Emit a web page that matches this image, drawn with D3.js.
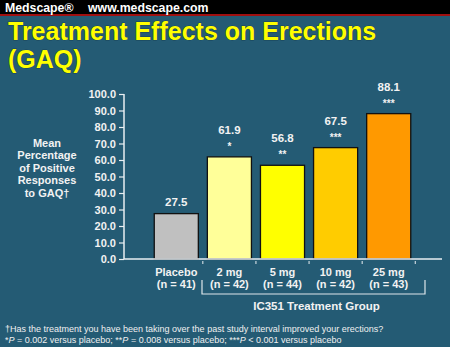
<!DOCTYPE html>
<html>
<head>
<meta charset="utf-8">
<script src="https://cdn.jsdelivr.net/npm/d3@7"></script>
<style>
  body { margin: 0; background: #245b74; }
  svg text { font-family: Arial, "Liberation Sans", sans-serif; }
</style>
</head>
<body>
<div class="canvas"></div>
<script>
// chart data
const categories = ['Placebo', '2 mg', '5 mg', '10 mg', '25 mg'];
const groupSizes = ['(n = 41)', '(n = 42)', '(n = 44)', '(n = 42)', '(n = 43)'];
const values = [27.5, 61.9, 56.8, 67.5, 88.1];
const stars = ['', '*', '**', '***', '***'];
const barColors = ['#c0c0c0', '#ffff99', '#ffff00', '#ffcc00', '#ff9900'];
const yTicks = [0, 10, 20, 30, 40, 50, 60, 70, 80, 90, 100];
const yLabelLines = ['Mean', 'Percentage', 'of Positive', 'Responses', 'to GAQ\u2020'];

const width = 450, height = 347;

const svg = d3.select('.canvas')
  .append('svg')
    .attr('width', width)
    .attr('height', height);

svg.append('rect').attr('width', width).attr('height', height).attr('fill', '#245b74');

// header bar
svg.append('rect').attr('width', width).attr('height', 14).attr('fill', '#000');
svg.append('rect').attr('y', 14).attr('width', width).attr('height', 2).attr('fill', '#a01010');
svg.append('text').attr('x', 5).attr('y', 11.5).text('Medscape\u00ae')
  .attr('fill', '#fff').attr('font-size', 12.3).attr('font-weight', 'bold');
svg.append('text').attr('x', 88).attr('y', 11.5).text('www.medscape.com')
  .attr('fill', '#fff').attr('font-size', 12.3).attr('font-weight', 'bold');

// title
const title = svg.append('g');
['Treatment Effects on Erections', '(GAQ)'].forEach((t, i) => {
  title.append('text')
    .attr('x', 8).attr('y', 40 + i * 28)
    .text(t)
    .attr('fill', '#ffff00')
    .attr('stroke', '#0a2a38').attr('stroke-width', 0.6)
    .attr('paint-order', 'stroke')
    .attr('font-size', 25).attr('font-weight', 'bold');
});

// graph area
const margin = {top: 94, left: 124};
const graphHeight = 165;
const graph = svg.append('g')
  .attr('transform', `translate(${margin.left}, ${margin.top})`);

const y = d3.scaleLinear()
  .domain([0, 100])
  .range([graphHeight, 0]);

const x = d3.scaleBand()
  .domain(categories)
  .range([26, 291])
  .paddingInner(0.17)
  .paddingOuter(0.08);

// y axis
const yAxis = d3.axisLeft(y)
  .tickValues(yTicks)
  .tickSize(5)
  .tickFormat(d3.format('.1f'));
const yAxisGroup = graph.append('g').call(yAxis);
yAxisGroup.select('.domain').attr('stroke', '#e8eef2').attr('stroke-width', 1.5)
  .attr('d', `M0,0V${graphHeight}`);
yAxisGroup.selectAll('.tick line').attr('stroke', '#e8eef2').attr('stroke-width', 1.2);
yAxisGroup.selectAll('text')
  .attr('fill', '#f2f2f2').attr('font-size', 11).attr('font-weight', 'bold')
  .attr('x', -8).attr('dy', '0.36em')
  .attr('font-family', 'Arial, "Liberation Sans", sans-serif');

// y label
const yLabel = svg.append('text')
  .attr('text-anchor', 'middle')
  .attr('fill', '#f2f2f2').attr('font-size', 11).attr('font-weight', 'bold');
yLabelLines.forEach((l, i) => {
  yLabel.append('tspan').attr('x', 47).attr('y', 147 + i * 12.4).text(l);
});

// bars
graph.selectAll('rect.bar')
  .data(values)
  .enter()
  .append('rect')
    .attr('class', 'bar')
    .attr('x', (d, i) => x(categories[i]))
    .attr('y', d => y(d))
    .attr('width', x.bandwidth())
    .attr('height', d => graphHeight - y(d))
    .attr('fill', (d, i) => barColors[i])
    .attr('stroke', '#111')
    .attr('stroke-width', 1.3);

// x axis line and ticks (ticks between groups)
graph.append('line')
  .attr('x1', 0).attr('x2', 318)
  .attr('y1', graphHeight).attr('y2', graphHeight)
  .attr('stroke', '#e8eef2').attr('stroke-width', 1.5);
const step = x.step();
graph.selectAll('line.xtick')
  .data(categories)
  .enter()
  .append('line')
    .attr('class', 'xtick')
    .attr('x1', d => x(d) + x.bandwidth() + (step - x.bandwidth()) / 2)
    .attr('x2', d => x(d) + x.bandwidth() + (step - x.bandwidth()) / 2)
    .attr('y1', graphHeight + 2).attr('y2', graphHeight + 5)
    .attr('stroke', '#e8eef2').attr('stroke-width', 1);

// value labels
graph.selectAll('text.val')
  .data(values)
  .enter()
  .append('text')
    .attr('class', 'val')
    .attr('x', (d, i) => x(categories[i]) + x.bandwidth() / 2)
    .attr('y', (d, i) => y(d) - (stars[i] ? 23 : 8))
    .attr('text-anchor', 'middle')
    .attr('fill', '#f2f2f2').attr('font-size', 11.5).attr('font-weight', 'bold')
    .text(d => d.toFixed(1));

graph.selectAll('text.star')
  .data(stars)
  .enter()
  .append('text')
    .attr('class', 'star')
    .attr('x', (d, i) => x(categories[i]) + x.bandwidth() / 2)
    .attr('y', (d, i) => y(values[i]) - 7)
    .attr('text-anchor', 'middle')
    .attr('fill', '#f2f2f2').attr('font-size', 10).attr('font-weight', 'bold')
    .text(d => d);

// category labels
categories.forEach((c, i) => {
  const cx = x(c) + x.bandwidth() / 2;
  graph.append('text').attr('x', cx).attr('y', graphHeight + 17)
    .attr('text-anchor', 'middle').attr('fill', '#f2f2f2')
    .attr('font-size', 11).attr('font-weight', 'bold').text(c);
  graph.append('text').attr('x', cx).attr('y', graphHeight + 28.5)
    .attr('text-anchor', 'middle').attr('fill', '#f2f2f2')
    .attr('font-size', 11).attr('font-weight', 'bold').text(groupSizes[i]);
});

// bracket for treatment group
const bx1 = 78, bx2 = 301;
graph.append('path')
  .attr('d', `M${bx1},${graphHeight + 21}V${graphHeight + 35}H${bx2}V${graphHeight + 21}`)
  .attr('fill', 'none').attr('stroke', '#dde6ea').attr('stroke-width', 1.2);
graph.append('text')
  .attr('x', (bx1 + bx2) / 2 + 3).attr('y', graphHeight + 51)
  .attr('text-anchor', 'middle').attr('fill', '#f2f2f2')
  .attr('font-size', 11.5).attr('font-weight', 'bold')
  .text('IC351 Treatment Group');

// footnotes
const foot = svg.append('text').attr('fill', '#f0f0f0').attr('font-size', 9);
foot.append('tspan').attr('x', 5).attr('y', 332)
  .text('\u2020Has the treatment you have been taking over the past study interval improved your erections?');
const f2 = foot.append('tspan').attr('x', 5).attr('y', 343);
f2.append('tspan').text('*');
f2.append('tspan').attr('font-style', 'italic').text('P');
f2.append('tspan').text(' = 0.002 versus placebo; **');
f2.append('tspan').attr('font-style', 'italic').text('P');
f2.append('tspan').text(' = 0.008 versus placebo; ***');
f2.append('tspan').attr('font-style', 'italic').text('P');
f2.append('tspan').text(' < 0.001 versus placebo');
</script>
</body>
</html>
